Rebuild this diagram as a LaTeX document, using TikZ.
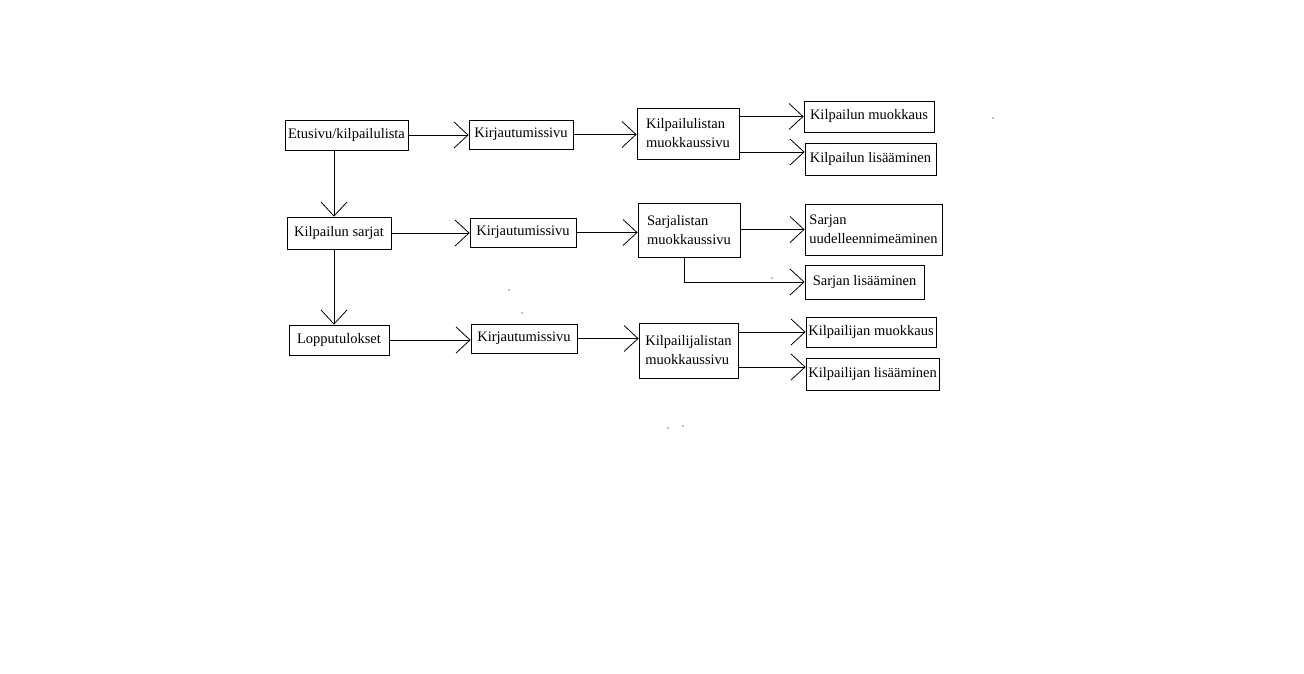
\documentclass[tikz,border=0pt]{standalone}
\usepackage{fontspec}
\setmainfont{Liberation Serif}
\usetikzlibrary{arrows.meta}
\begin{document}
\begin{tikzpicture}[x=1pt,y=-1pt,
  box/.style={draw, line width=0.8pt, inner sep=0pt, align=left,
    font=\fontsize{14.5}{19}\selectfont},
  arr/.style={line width=0.8pt, -{Straight Barb[length=14pt,width=26pt,line width=0.8pt]}},
  ln/.style={line width=0.8pt},
  dot/.style={fill=black}]
\fill[white] (0,0) rectangle (1304,673);
\useasboundingbox (0,0) rectangle (1304,673);
% row 1
\node[box, minimum width=123, minimum height=30] (etu) at (346.5,135) {Etusivu/kilpailulista};
\node[box, minimum width=104, minimum height=29] (k1) at (521,134.5) {Kirjautumissivu};
\node[box, minimum width=102, minimum height=51] (kl) at (688,133.5) {Kilpailulistan\\muokkaussivu};
\node[box, minimum width=130, minimum height=31] (km) at (869,116.5) {Kilpailun muokkaus};
\node[box, minimum width=131, minimum height=32] (kli) at (870.5,159) {Kilpailun lisääminen};
% row 2
\node[box, minimum width=104, minimum height=32] (sarjat) at (339,233) {Kilpailun sarjat};
\node[box, minimum width=106, minimum height=29] (k2) at (523,232.5) {Kirjautumissivu};
\node[box, minimum width=102, minimum height=54] (sl) at (689,230) {Sarjalistan\\muokkaussivu};
\node[box, minimum width=137, minimum height=51] (su) at (873.5,229.5) {Sarjan\\uudelleennimeäminen};
\node[box, minimum width=119, minimum height=34] (sli) at (864.5,282) {Sarjan lisääminen};
% row 3
\node[box, minimum width=100, minimum height=30] (lop) at (339,340) {Lopputulokset};
\node[box, minimum width=106, minimum height=29] (k3) at (524,338.5) {Kirjautumissivu};
\node[box, minimum width=99, minimum height=55] (kil) at (688.5,350.5) {Kilpailijalistan\\muokkaussivu};
\node[box, minimum width=130, minimum height=30] (kim) at (871,332) {Kilpailijan muokkaus};
\node[box, minimum width=133, minimum height=32] (kili) at (872.5,374) {Kilpailijan lisääminen};
% helper coordinates
\coordinate (a1) at ([yshift=-18.5pt]kl.east);
\coordinate (a2) at ([yshift=-16.5pt]kil.east);
\coordinate (v1) at ([xshift=-12.5pt]etu.south);
\coordinate (v2) at ([xshift=-5pt]sarjat.south);
\coordinate (s1) at ([xshift=-5pt]sl.south);
% connectors row 1
\draw[arr] (etu.east) -- (etu.east -| k1.west);
\draw[arr] (k1.east) -- (k1.east -| kl.west);
\draw[arr] (kl.east |- km.west) -- (km.west);
\draw[arr] (a1) -- (a1 -| kli.west);
% row 2
\draw[arr] (sarjat.east) -- (sarjat.east -| k2.west);
\draw[arr] (k2.east) -- (k2.east -| sl.west);
\draw[arr] (sl.east |- su.west) -- (su.west);
\draw[arr] (s1) |- (sli.west);
% row 3
\draw[arr] (lop.east) -- (lop.east -| k3.west);
\draw[arr] (k3.east) -- (k3.east -| kil.west);
\draw[arr] (kil.east |- kim.west) -- (kim.west);
\draw[arr] (a2) -- (a2 -| kili.west);
% vertical
\draw[arr] (v1) -- (v1 |- sarjat.north);
\draw[arr] (v2) -- (v2 |- lop.north);
% stray dots
\fill[dot] (993,118) circle (0.7);
\fill[dot] (509,290) circle (0.6);
\fill[dot] (522,313) circle (0.6);
\fill[dot] (772,278) circle (0.6);
\fill[dot] (668,428) circle (0.6);
\fill[dot] (683,426) circle (0.6);
\end{tikzpicture}
\end{document}
